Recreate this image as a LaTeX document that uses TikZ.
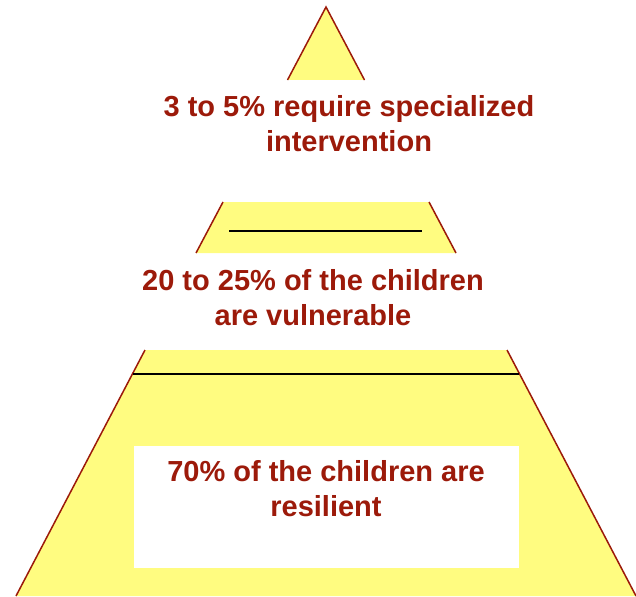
\documentclass[tikz,border=0pt]{standalone}
\usepackage{fontspec}
\setmainfont{Liberation Sans}
\usepackage{tikz}

\definecolor{pyryellow}{RGB}{255,252,128}
\definecolor{pyrred}{RGB}{156,26,10}

\tikzset{
  tier/.style={fill=pyryellow, draw=none},
  side/.style={draw=pyrred, line width=1.5pt},
  rule/.style={draw=black, line width=2pt},
  tiertext/.style={text=pyrred, align=center, inner sep=0pt,
    font=\fontsize{29}{35}\selectfont\bfseries}
}

\begin{document}
\begin{tikzpicture}[x=1pt,y=-1pt]

\useasboundingbox (0,0) rectangle (636,596);

% top tier
\coordinate (a) at (326,7);
\coordinate (tl) at (287.5,80);
\coordinate (tr) at (364.5,80);

% middle tier
\coordinate (ml) at (223,202);
\coordinate (mr) at (429,202);
\coordinate (mbl) at (196,253);
\coordinate (mbr) at (456,253);

% bottom tier
\coordinate (bl) at (145,350);
\coordinate (br) at (507,350);
\coordinate (bbl) at (16,596);
\coordinate (bbr) at (636,596);

\fill[tier] (a) -- (tr) -- (tl) -- cycle;
\fill[tier] (ml) -- (mr) -- (mbr) -- (mbl) -- cycle;
\fill[tier] (bl) -- (br) -- (bbr) -- (bbl) -- cycle;

\draw[side] (tl) -- (a) -- (tr);
\draw[side] (ml) -- (mbl);
\draw[side] (mr) -- (mbr);
\draw[side] (bl) -- (bbl);
\draw[side] (br) -- (bbr);

\coordinate (r1) at (229,231);
\coordinate (r2) at (422,231);
\coordinate (r3) at (133,374);
\coordinate (r4) at (519,374);
\draw[rule] (r1) -- (r2);
\draw[rule] (r3) -- (r4);

\fill[white] (134,446) rectangle (519,568);

\node[tiertext] (top) at (349,124) {3 to 5\% require specialized\\intervention};
\node[tiertext] (mid) at (313,298) {20 to 25\% of the children\\are vulnerable};
\node[tiertext] (low) at (326,489) {70\% of the children are\\resilient};

\end{tikzpicture}
\end{document}
